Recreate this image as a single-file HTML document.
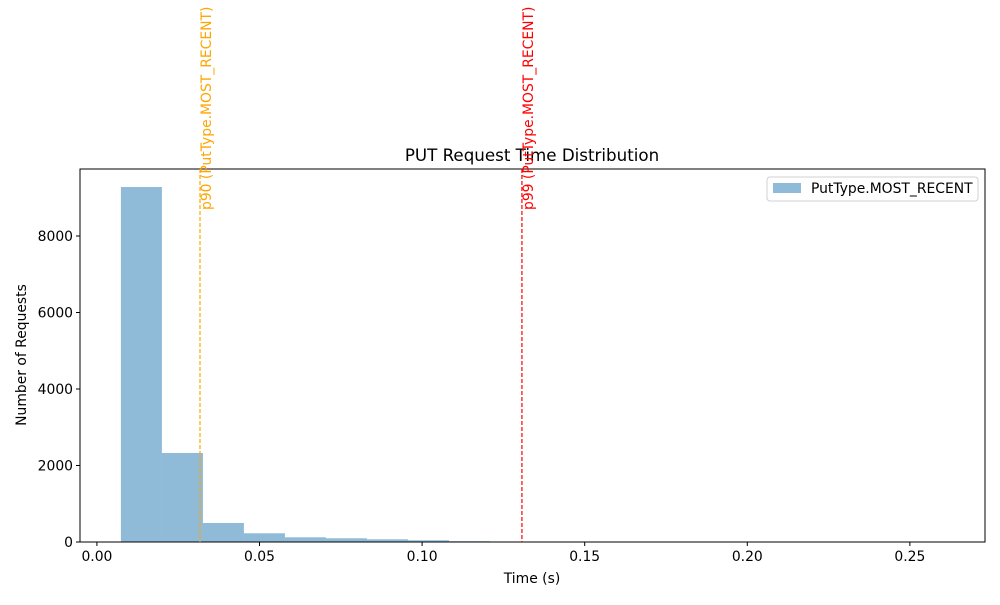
<!DOCTYPE html>
<html><head><meta charset="utf-8"><style>
body{margin:0;background:#fff;}
svg{font-family:"DejaVu Sans","Liberation Sans",sans-serif;}
</style></head><body>
<svg id="chart" width="1000" height="600" xmlns="http://www.w3.org/2000/svg">
<rect width="1000" height="600" fill="#fff"/>
<g id="bars"></g>
<g id="axes"></g>
<text x="532" y="161" font-size="16.7" text-anchor="middle">PUT Request Time Distribution</text>
<text x="532" y="583" font-size="13.9" text-anchor="middle">Time (s)</text>
<text transform="translate(26,355) rotate(-90)" font-size="13.9" text-anchor="middle">Number of Requests</text>
<g>
<rect x="767" y="177" width="211" height="24" rx="3" fill="#fff" fill-opacity="0.8" stroke="#d0d0d0"/>
<rect x="773" y="183" width="28" height="10" fill="#1f77b4" fill-opacity="0.5"/>
<text x="811" y="193" font-size="13.9">PutType.MOST_RECENT</text>
</g>
</svg>
<script>
const binStart = 0.00738;
const binWidth = 0.01261;
const counts = [9281, 2327, 497, 228, 123, 97, 70, 45, 20, 8, 8, 7, 7, 6, 6, 5, 5, 0, 0, 5];
const xTicks = [0, 0.05, 0.10, 0.15, 0.20, 0.25];
const xTickLabels = ["0.00", "0.05", "0.10", "0.15", "0.20", "0.25"];
const yTicks = [0, 2000, 4000, 6000, 8000];
const percentiles = [0.0317, 0.1307];
const percentileLabels = ["p90 (PutType.MOST_RECENT)", "p99 (PutType.MOST_RECENT)"];
const percentileColors = ["orange", "red"];

const L=80,R=985,T=169,B=542;
const xMin=-0.0052,xMax=0.2731,yMax=9752;
const X=v=>L+(v-xMin)/(xMax-xMin)*(R-L);
const Y=v=>B-v/yMax*(B-T);
const NS="http://www.w3.org/2000/svg";
const svg=document.getElementById('chart');
function mk(tag,attrs,parent){const e=document.createElementNS(NS,tag);for(const k in attrs)e.setAttribute(k,attrs[k]);parent.appendChild(e);return e;}
const bars=document.getElementById('bars');
counts.forEach((c,i)=>{
  const x0=X(binStart+i*binWidth),x1=X(binStart+(i+1)*binWidth);
  const r=mk('rect',{x:x0,y:Y(c),width:x1-x0,height:B-Y(c),fill:'#1f77b4','fill-opacity':0.5},bars);
  
  
});
const axes=document.getElementById('axes');
const frame=mk('rect',{x:L,y:T,width:R-L,height:B-T,fill:'none',stroke:'#000','stroke-width':1},axes);


xTicks.forEach((v,i)=>{
  const x=X(v);
  const t=mk('line',{x1:x,x2:x,y1:B,y2:B+4,stroke:'#000'},axes);
  
  
  const l=mk('text',{x:x,y:B+19,'font-size':13.9,'text-anchor':'middle'},axes);
  l.textContent=xTickLabels[i];
  
  
});
yTicks.forEach(v=>{
  const y=Y(v);
  const t=mk('line',{x1:L-4,x2:L,y1:y,y2:y,stroke:'#000'},axes);
  
  
  const l=mk('text',{x:L-7,y:y+5,'font-size':13.9,'text-anchor':'end'},axes);
  l.textContent=String(v);
  
  
});
percentiles.forEach((p,i)=>{
  const x=X(p);
  const ln=mk('line',{x1:x,x2:x,y1:T,y2:B,stroke:percentileColors[i],'stroke-width':1.2,'stroke-dasharray':'4,2'},svg);
  
  
  const tx=mk('text',{transform:`translate(${x+11},210) rotate(-90)`,'font-size':13.9,fill:percentileColors[i]},svg);
  tx.textContent=percentileLabels[i];
  
  
});
</script>
</body></html>
